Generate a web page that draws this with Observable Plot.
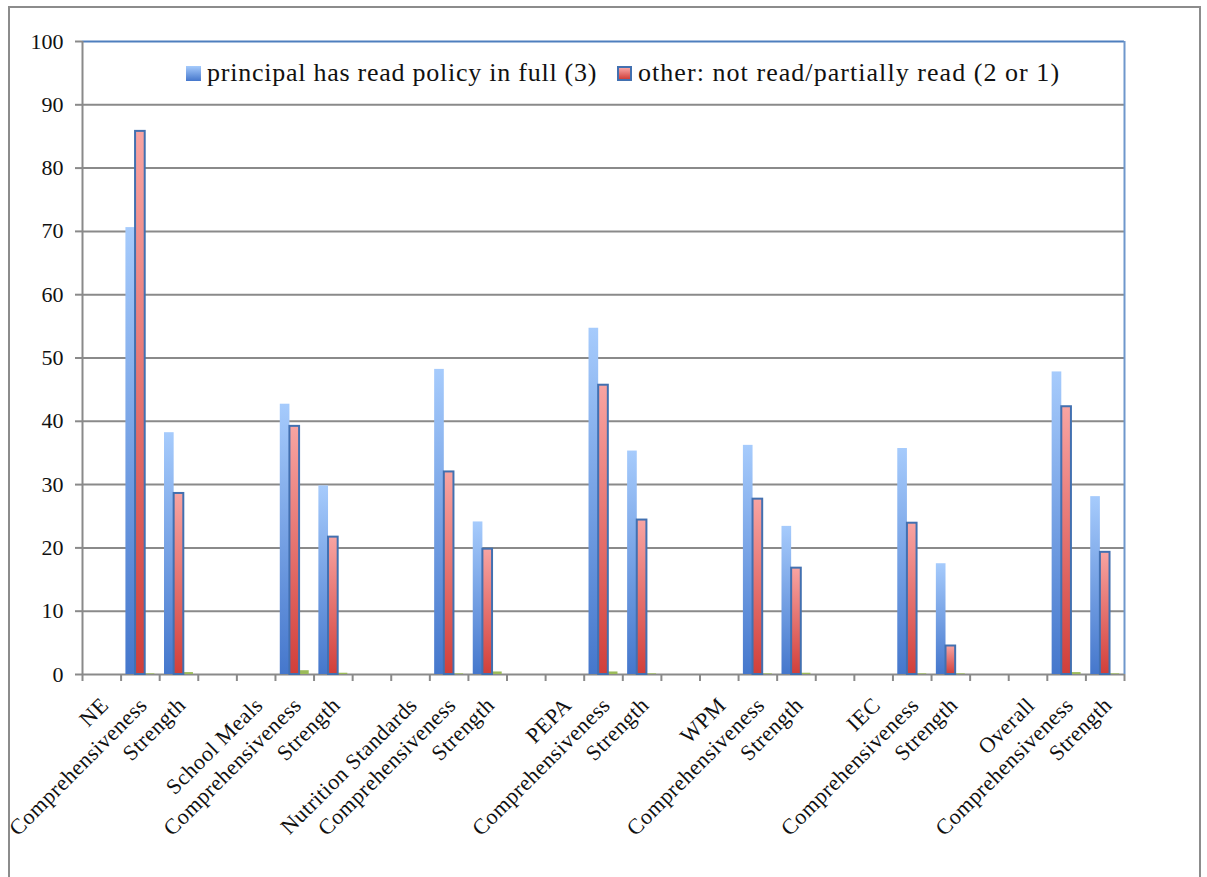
<!DOCTYPE html>
<html>
<head>
<meta charset="utf-8">
<script src="https://cdn.jsdelivr.net/npm/d3@7"></script>
<script src="https://cdn.jsdelivr.net/npm/@observablehq/plot@0.6"></script>
<style>
  html, body { margin: 0; padding: 0; background: #fff; }
  #wrap { position: relative; width: 1207px; height: 877px; overflow: hidden; }
  #frame { position: absolute; left: 8px; top: 6px; width: 1189px; height: 900px;
           border: 2px solid #8c8c8c; border-bottom: none; }
  #chart { position: absolute; left: 0; top: 0; }
  .item { position: absolute; top: 58px; display: flex; align-items: center;
          font-family: "Liberation Serif", serif; font-size: 26px; letter-spacing: 0.75px;
          color: #111; white-space: nowrap; line-height: 30px; }
  .sw { width: 15px; height: 15px; margin-right: 6px; box-sizing: border-box; }
  .xlab text { letter-spacing: 0.5px; }
</style>
</head>
<body>
<div id="wrap">
  <div id="frame"></div>
  <div id="chart"></div>
  <div id="legend"></div>
</div>
<script>
// ---- data ----
const groups = ["NE", "School Meals", "Nutrition Standards", "PEPA", "WPM", "IEC", "Overall"];
const measures = ["Comprehensiveness", "Strength"];
const seriesNames = ["principal has read policy in full (3)", "other: not read/partially read (2 or 1)"];
// values in order: group × measure (Comprehensiveness, Strength)
const principalRead = [70.6, 38.2, 42.7, 29.8, 48.2, 24.1, 54.7, 35.3, 36.2, 23.4, 35.7, 17.5, 47.8, 28.1];
const otherRead     = [85.8, 28.6, 39.2, 21.7, 32.0, 19.8, 45.7, 24.4, 27.7, 16.8, 23.9, 4.5, 42.3, 19.3];
const thirdSeries   = [0.1, 0.3, 0.6, 0.2, 0.1, 0.4, 0.4, 0.1, 0.1, 0.2, 0.1, 0.1, 0.3, 0.1];
const yTicks = [0, 10, 20, 30, 40, 50, 60, 70, 80, 90, 100];

// ---- build category slots: [group label, Comprehensiveness, Strength, (blank)] ----
const slotLabels = [];
groups.forEach((g, gi) => {
  slotLabels.push(g, ...measures);
  if (gi < groups.length - 1) slotLabels.push("");
});
const nSlots = slotLabels.length; // 27

const rows = [];
const seriesArrays = [principalRead, otherRead, thirdSeries];
groups.forEach((g, gi) => {
  measures.forEach((m, mi) => {
    const k = gi * measures.length + mi;
    const slot = gi * 4 + 1 + mi;
    seriesArrays.forEach((arr, si) => {
      rows.push({group: g, measure: m, series: si, slot, value: arr[k]});
    });
  });
});
const barW = 0.25, barOff = 0.125;
const x1 = d => d.slot + barOff + barW * d.series;
const x2 = d => d.slot + barOff + barW * (d.series + 1);

const labelRows = slotLabels.map((t, i) => ({t, i})).filter(d => d.t !== "");

function defs() {
  const s = d3.create("svg:defs");
  const gB = s.append("linearGradient").attr("id", "gBlue").attr("x1", 0).attr("y1", 0).attr("x2", 0).attr("y2", 1);
  gB.append("stop").attr("offset", "0%").attr("stop-color", "#a6cbfc");
  gB.append("stop").attr("offset", "100%").attr("stop-color", "#4577cc");
  const gR = s.append("linearGradient").attr("id", "gRed").attr("x1", 0).attr("y1", 0).attr("x2", 0).attr("y2", 1);
  gR.append("stop").attr("offset", "0%").attr("stop-color", "#f8a4a2");
  gR.append("stop").attr("offset", "100%").attr("stop-color", "#d13f3a");
  return s.node();
}

const chart = Plot.plot({
  width: 1207,
  height: 877,
  marginLeft: 82,
  marginRight: 83,
  marginTop: 41,
  marginBottom: 203,
  style: {fontFamily: "Liberation Serif, serif", fontSize: "22px", color: "#111", background: "transparent"},
  x: {type: "linear", domain: [0, nSlots], axis: null},
  y: {domain: [0, 100], axis: null},
  marks: [
    defs,
    Plot.ruleY(yTicks.filter(v => v < 100), {y: d => d, stroke: "#8a8a8a", strokeWidth: 2, strokeOpacity: 1}),
    Plot.ruleY([100], {y: d => d, stroke: "#4f7fbe", strokeWidth: 2}),
    Plot.ruleX([nSlots], {x: d => d, y1: 0, y2: 100, stroke: "#6f97cc", strokeWidth: 2}),
    Plot.axisY({ticks: yTicks, tickSize: 7, tickPadding: 12, stroke: "#8a8a8a", strokeWidth: 2, fontSize: 22, label: null}),
    Plot.axisX({ticks: d3.range(nSlots + 1), tickSize: 7, tickFormat: () => "", stroke: "#8a8a8a", strokeWidth: 2, label: null}),
    Plot.ruleX([0], {x: d => d, y1: 0, y2: 100, stroke: "#8a8a8a", strokeWidth: 2}),
    Plot.rectY(rows.filter(d => d.series === 0), {x1, x2, y1: 0, y2: "value", fill: "url(#gBlue)"}),
    Plot.rectY(rows.filter(d => d.series === 2), {x1, x2, y1: 0, y2: "value", fill: "#9bbb59"}),
    Plot.rectY(rows.filter(d => d.series === 1), {x1, x2, y1: 0, y2: "value", fill: "url(#gRed)", stroke: "#4270b0", strokeWidth: 2}),
    Plot.text(labelRows, {x: d => d.i + 0.5, y: 0, text: "t", rotate: -45, textAnchor: "end",
      dx: 3, dy: 27, fontSize: 22, fill: "#111", className: "xlab"})
  ]
});
document.getElementById("chart").appendChild(chart);

// ---- legend (inside the plot area, top) ----
const legend = document.getElementById("legend");
const swatchStyles = [
  "background: linear-gradient(#a6cbfc, #4577cc);",
  "background: linear-gradient(#f8a4a2, #d13f3a); border: 2px solid #4270b0;"
];
const legendLeft = [186, 617];
const legendSpacing = ["0.75px", "1.05px"];
seriesNames.forEach((name, i) => {
  const it = document.createElement("div");
  it.className = "item";
  it.style.left = legendLeft[i] + "px";
  it.style.letterSpacing = legendSpacing[i];
  const sw = document.createElement("div");
  sw.className = "sw";
  sw.setAttribute("style", swatchStyles[i]);
  const tx = document.createElement("span");
  tx.textContent = name;
  it.appendChild(sw); it.appendChild(tx);
  legend.appendChild(it);
});
</script>
</body>
</html>
